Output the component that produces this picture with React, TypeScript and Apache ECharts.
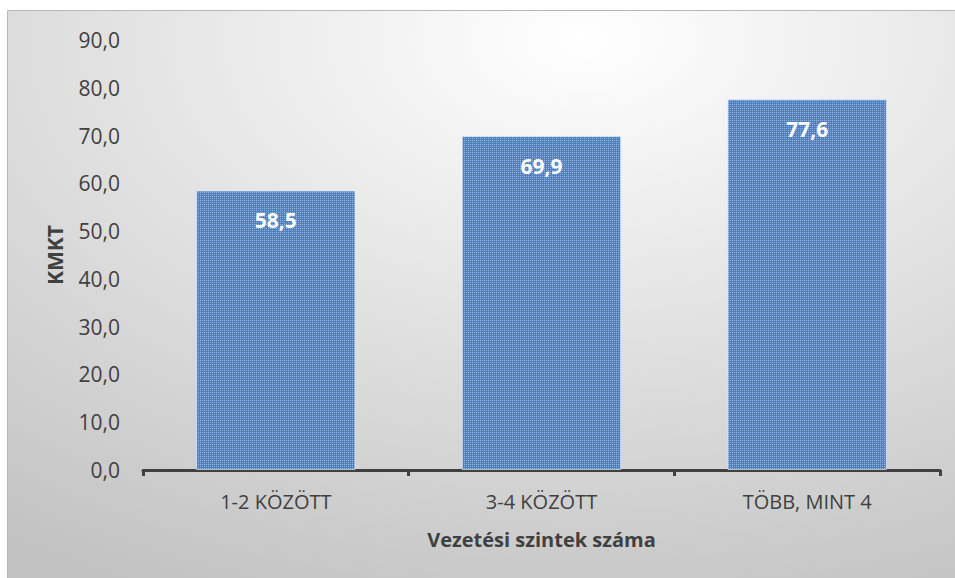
import React, { useEffect, useRef } from "react";
import * as echarts from "echarts";

const categories = ["1-2 KÖZÖTT", "3-4 KÖZÖTT", "TÖBB, MINT 4"];
const values = [58.5, 69.9, 77.6];
const yMin = 0;
const yMax = 90;
const yInterval = 10;
const xAxisName = "Vezetési szintek száma";
const yAxisName = "KMKT";

function makePattern(): HTMLCanvasElement {
  const c = document.createElement("canvas");
  c.width = 8;
  c.height = 8;
  const ctx = c.getContext("2d")!;
  ctx.fillStyle = "#4f81c0";
  ctx.fillRect(0, 0, 8, 8);
  ctx.fillStyle = "#9ab8e2";
  for (let i = 0; i < 8; i += 2) {
    ctx.fillRect(i, 0, 1, 1);
    ctx.fillRect(0, i, 1, 1);
    ctx.fillRect(i, 4, 1, 1);
    ctx.fillRect(4, i, 1, 1);
  }
  ctx.fillStyle = "#739bd2";
  ctx.fillRect(2, 2, 1, 1);
  ctx.fillRect(6, 6, 1, 1);
  ctx.fillRect(2, 6, 1, 1);
  ctx.fillRect(6, 2, 1, 1);
  return c;
}

export default function App() {
  const ref = useRef<HTMLDivElement>(null);
  useEffect(() => {
    if (!ref.current) return;
    const chart = echarts.init(ref.current, null, { renderer: "svg" });
    const pattern = makePattern();
    const font = "'Open Sans', sans-serif";
    chart.setOption({
      animation: false,
      graphic: [
        {
          type: "rect",
          z: -10,
          silent: true,
          shape: { x: 7.5, y: 10.5, width: 960, height: 580 },
          style: {
            fill: {
              type: "radial",
              x: 0.6,
              y: 0.05,
              r: 1.05,
              colorStops: [
                { offset: 0, color: "#ffffff" },
                { offset: 1, color: "#c2c2c2" },
              ],
            },
            stroke: "#b8b8b8",
            lineWidth: 1,
          },
        },
      ],
      grid: { left: 143, right: 15, top: 40, bottom: 108, containLabel: false },
      xAxis: {
        type: "category",
        data: categories,
        name: xAxisName,
        nameLocation: "middle",
        nameGap: 59,
        nameTextStyle: { fontFamily: font, fontSize: 20, fontWeight: "bold", color: "#404040" },
        axisLine: { lineStyle: { color: "#404040", width: 3 } },
        axisTick: { show: true, length: 6, lineStyle: { color: "#404040", width: 3 } },
        axisLabel: { fontFamily: font, fontSize: 20, color: "#404040", margin: 21 },
        splitLine: { show: false },
      },
      yAxis: {
        type: "value",
        min: yMin,
        max: yMax,
        interval: yInterval,
        name: yAxisName,
        nameLocation: "middle",
        nameGap: 78,
        nameRotate: 90,
        nameTextStyle: { fontFamily: font, fontSize: 21, fontWeight: "bold", color: "#404040" },
        axisLine: { show: false },
        axisTick: { show: false },
        splitLine: { show: false },
        axisLabel: {
          fontFamily: font,
          fontSize: 21,
          color: "#404040",
          margin: 23,
          formatter: (v: number) => v.toFixed(1).replace(".", ","),
        },
      },
      series: [
        {
          type: "bar",
          data: values,
          barWidth: "60%",
          itemStyle: {
            color: { image: pattern, repeat: "repeat" },
            borderColor: "rgba(220,232,248,0.7)",
            borderWidth: 1,
          },
          label: {
            show: true,
            position: "insideTop",
            distance: 19,
            fontFamily: font,
            fontSize: 21,
            fontWeight: "bold",
            color: "#ffffff",
            formatter: (p: any) => Number(p.value).toFixed(1).replace(".", ","),
          },
        },
      ],
    });
    return () => chart.dispose();
  }, []);
  return (
    <div
      ref={ref}
      style={{ position: "absolute", left: 0, top: 0, width: 955, height: 578 }}
    />
  );
}
